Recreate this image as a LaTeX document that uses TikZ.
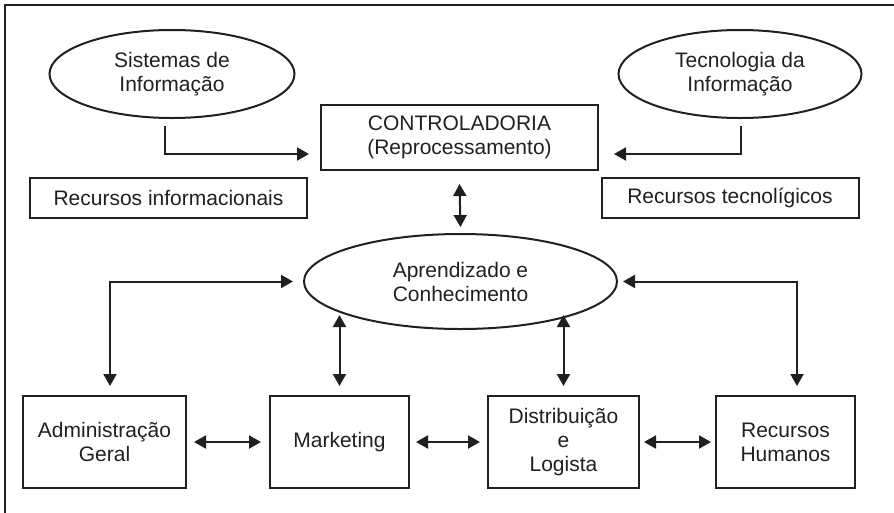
\documentclass[tikz,border=0pt]{standalone}
\usepackage{fontspec}
\setmainfont{Liberation Sans}
\usetikzlibrary{shapes.geometric,arrows.meta}
\definecolor{ink}{HTML}{231F20}
\tikzset{
  base/.style={draw=ink, line width=2pt, text=ink, align=center, inner sep=0pt,
    font=\fontsize{21}{24}\selectfont},
  oval/.style={base, ellipse},
  boxn/.style={base, rectangle},
  arr/.style={draw=ink, line width=2pt, -{Triangle[length=12pt,width=13pt]}},
  darr/.style={draw=ink, line width=2pt, {Triangle[length=12pt,width=13pt]}-{Triangle[length=12pt,width=13pt]}},
}
\begin{document}
\begin{tikzpicture}[x=1pt,y=-1pt]
\useasboundingbox (0,0) rectangle (894,512);
\draw[draw=ink, line width=2.5pt] (5,514) -- (5,5) -- (896,5);

\node[oval, minimum width=245pt, minimum height=88pt] (sis) at (172,74) {Sistemas de\\Informação};
\node[oval, minimum width=243pt, minimum height=88pt] (tec) at (740,74) {Tecnologia da\\Informação};
\node[boxn, minimum width=277pt, minimum height=65pt] (ctrl) at (459.5,137.5) {CONTROLADORIA\\(Reprocessamento)};
\node[boxn, minimum width=277pt, minimum height=40pt] (rinf) at (168.5,198) {Recursos informacionais};
\node[boxn, minimum width=257pt, minimum height=40pt] (rtec) at (730,198) {Recursos tecnolígicos};
\node[oval, minimum width=313pt, minimum height=95pt] (apr) at (460.5,281.5) {Aprendizado e\\Conhecimento};
\node[boxn, minimum width=163pt, minimum height=92pt] (adm) at (104.5,442) {Administração\\Geral};
\node[boxn, minimum width=139pt, minimum height=92pt] (mkt) at (339.5,442) {Marketing};
\node[boxn, minimum width=151pt, minimum height=92pt] (dist) at (563.5,442) {Distribuição\\e\\Logista};
\node[boxn, minimum width=139pt, minimum height=92pt] (rh) at (785.5,442) {Recursos\\Humanos};

\draw[arr] ([xshift=-7pt,yshift=-7pt]sis.south) |- ([xshift=-11pt,yshift=-16.5pt]ctrl.west);
\draw[arr] ([xshift=1pt,yshift=-7pt]tec.south) |- ([xshift=15pt,yshift=-16.5pt]ctrl.east);
\draw[darr] ([yshift=-13pt]ctrl.south) -- ([yshift=6pt]apr.north);
\draw[darr] ([xshift=-10pt]apr.west) -| ([xshift=5.5pt,yshift=9pt]adm.north);
\draw[darr] ([xshift=5pt]apr.east) -| ([xshift=11.5pt,yshift=9pt]rh.north);
\draw[darr] ([yshift=9pt]mkt.north) -- ++(0,-71);
\draw[darr] ([yshift=9pt]dist.north) -- ++(0,-71);
\draw[darr] ([xshift=7pt]adm.east) -- ([xshift=-8pt]mkt.west);
\draw[darr] ([xshift=6pt]mkt.east) -- ([xshift=-7pt]dist.west);
\draw[darr] ([xshift=4pt]dist.east) -- ([xshift=-4pt]rh.west);
\end{tikzpicture}
\end{document}
